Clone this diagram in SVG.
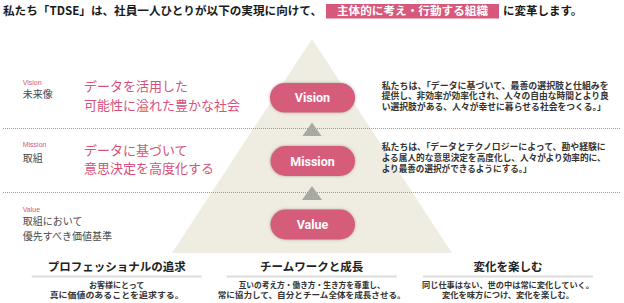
<svg xmlns="http://www.w3.org/2000/svg" width="624" height="303" viewBox="0 0 624 303">
<defs>
<filter id="sh" x="-20%" y="-40%" width="140%" height="180%">
<feDropShadow dx="0" dy="0" stdDeviation="1.6" flood-color="#6b6b5a" flood-opacity="0.55"/>
</filter>
<style>
.jp{font-family:"Noto Sans CJK JP","Noto Sans CJK SC",sans-serif;}
.title{font-size:11.5px;font-weight:700;fill:#1a1a1a;}
.boxt{font-size:11.5px;font-weight:700;fill:#ffffff;}
.lab{font-family:"Liberation Sans",Arial,sans-serif;font-size:7px;fill:#d6557b;}
.labj{font-size:10px;fill:#4a4a4a;}
.pink{font-size:13px;fill:#d8517b;}
.para{font-size:8.6px;font-weight:700;fill:#333333;}
.pill{fill:#d65c7c;filter:url(#sh);}
.pillt{font-family:Roboto,"Liberation Sans",sans-serif;font-size:12.5px;font-weight:700;fill:#ffffff;text-anchor:middle;}
.dot{stroke:#9a9a9a;stroke-width:1;stroke-dasharray:1 1;fill:none;}
.arr{fill:#a8a8a4;}
.head{font-size:11.5px;font-weight:700;fill:#222222;text-anchor:middle;}
.sub{font-size:8px;font-weight:700;fill:#333333;text-anchor:middle;}
.ul{stroke:#dcdcdc;stroke-width:2;}
</style>
</defs>
<rect width="624" height="303" fill="#ffffff"/>

<g id="title">
<text class="jp title" x="3" y="15.3" textLength="319" lengthAdjust="spacingAndGlyphs">私たち「TDSE」は、社員一人ひとりが以下の実現に向けて、</text>
<rect x="326" y="4" width="173" height="14.5" fill="#d6587b"/>
<text class="jp boxt" x="337" y="15.3" textLength="151" lengthAdjust="spacingAndGlyphs">主体的に考え・行動する組織</text>
<text class="jp title" x="503" y="15.3">に変革します。</text>
</g>

<g id="pyramid">
<polygon points="312,39 452,253 172,253" fill="#efece1"/>
</g>

<g id="connectors">
<line class="dot" x1="3" y1="128.5" x2="621" y2="128.5"/>
<line class="dot" x1="3" y1="192.5" x2="621" y2="192.5"/>
<polygon class="arr" points="312,122.5 321.5,136 302.5,136"/>
<polygon class="arr" points="312,186 322,200 302,200"/>
</g>

<g id="vision">
<text class="lab" x="22.7" y="85">Vision</text>
<text class="jp labj" x="22.7" y="98.3">未来像</text>
<text class="jp pink" x="84" y="91.4">データを活用した</text>
<text class="jp pink" x="84" y="109.8">可能性に溢れた豊かな社会</text>
<rect class="pill" x="270" y="83" width="85" height="29.5" rx="14.75"/>
<text class="pillt" x="312.5" y="102">Vision</text>
<text class="jp para" x="381.7" y="88.7" textLength="227" lengthAdjust="spacingAndGlyphs">私たちは、「データに基づいて、最善の選択肢と仕組みを</text>
<text class="jp para" x="381.7" y="99.4" textLength="227" lengthAdjust="spacingAndGlyphs">提供し、非効率が効率化され、人々の自由な時間とより良</text>
<text class="jp para" x="381.7" y="110.1" textLength="224" lengthAdjust="spacingAndGlyphs">い選択肢がある、人々が幸せに暮らせる社会をつくる。」</text>
</g>

<g id="mission">
<text class="lab" x="22.7" y="147.3">Mission</text>
<text class="jp labj" x="22.7" y="161.6">取組</text>
<text class="jp pink" x="84" y="155">データに基づいて</text>
<text class="jp pink" x="84" y="173.4">意思決定を高度化する</text>
<rect class="pill" x="270.5" y="146" width="84.5" height="30" rx="15"/>
<text class="pillt" x="312.5" y="165.5">Mission</text>
<text class="jp para" x="381.7" y="150.1" textLength="224" lengthAdjust="spacingAndGlyphs">私たちは、「データとテクノロジーによって、勘や経験に</text>
<text class="jp para" x="381.7" y="160.8" textLength="224" lengthAdjust="spacingAndGlyphs">よる属人的な意思決定を高度化し、人々がより効率的に、</text>
<text class="jp para" x="381.7" y="171.5" textLength="150" lengthAdjust="spacingAndGlyphs">より最善の選択ができるようにする。」</text>
</g>

<g id="value">
<text class="lab" x="22.7" y="211.7">Value</text>
<text class="jp labj" x="22.7" y="225">取組において</text>
<text class="jp labj" x="22.7" y="240">優先すべき価値基準</text>
<rect class="pill" x="270.5" y="209.5" width="84.5" height="30" rx="15"/>
<text class="pillt" x="312.5" y="229">Value</text>
</g>

<g id="value-professional">
<text class="jp head" x="116.7" y="270.9">プロフェッショナルの追求</text>
<line class="ul" x1="31.7" y1="276.5" x2="201.7" y2="276.5"/>
<text class="jp sub" x="116.7" y="287.7">お客様にとって</text>
<text class="jp sub" x="116.7" y="297.7" textLength="134" lengthAdjust="spacingAndGlyphs">真に価値のあることを追求する。</text>
</g>

<g id="value-teamwork">
<text class="jp head" x="311.7" y="270.9">チームワークと成長</text>
<line class="ul" x1="226.7" y1="276.5" x2="396.7" y2="276.5"/>
<text class="jp sub" x="311.7" y="287.7" textLength="146" lengthAdjust="spacingAndGlyphs">互いの考え方・働き方・生き方を尊重し、</text>
<text class="jp sub" x="311.7" y="297.7" textLength="188" lengthAdjust="spacingAndGlyphs">常に協力して、自分とチーム全体を成長させる。</text>
</g>

<g id="value-change">
<text class="jp head" x="508" y="270.9">変化を楽しむ</text>
<line class="ul" x1="423" y1="276.5" x2="593" y2="276.5"/>
<text class="jp sub" x="508" y="287.7" textLength="172" lengthAdjust="spacingAndGlyphs">同じ仕事はない、世の中は常に変化していく。</text>
<text class="jp sub" x="508" y="297.7" textLength="132" lengthAdjust="spacingAndGlyphs">変化を味方につけ、変化を楽しむ。</text>
</g>
</svg>
